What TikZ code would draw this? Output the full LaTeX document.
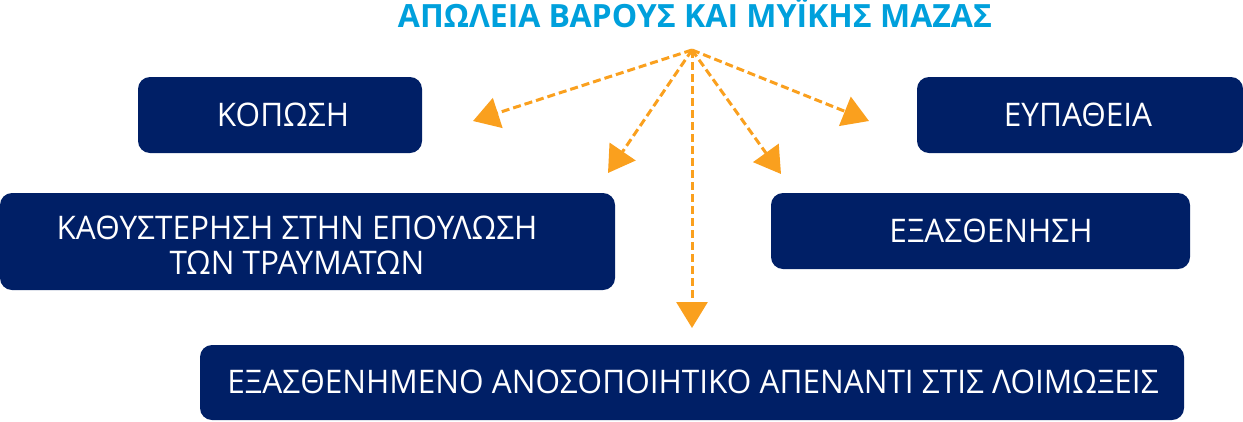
\documentclass[tikz,border=0pt]{standalone}
\usepackage{fontspec}
\setmainfont{Open Sans}
\newfontfamily\boxfont[FakeStretch=0.97]{Open Sans}
\usetikzlibrary{arrows.meta}
\definecolor{navy}{RGB}{0,31,102}
\definecolor{titleblue}{RGB}{0,160,220}
\definecolor{arroworange}{RGB}{250,160,30}
\tikzset{
  x=1pt,y=-1pt,
  box/.style={fill=navy,draw=none,rounded corners=12pt,inner sep=0pt},
  boxtext/.style={text=white,font=\boxfont\fontsize{32.5}{35.5}\selectfont,inner sep=0pt,anchor=base},
  link/.style={draw=arroworange,line width=3pt,dash pattern=on 8pt off 4pt,
    -{Triangle[length=26pt,width=31pt]}},
}
\begin{document}
\begin{tikzpicture}
\useasboundingbox (0,0) rectangle (1243,421);
\node[text=titleblue,font=\fontsize{32}{35}\selectfont\bfseries,inner sep=0pt,anchor=base] (title) at (695,27) {ΑΠΩΛΕΙΑ ΒΑΡΟΥΣ ΚΑΙ ΜΥΪΚΗΣ ΜΑΖΑΣ};
\coordinate (src) at (692,50);
% boxes
\node[box,minimum width=284pt,minimum height=76pt] (b1) at (280,115) {};
\node[boxtext] (t1) at (283,126) {ΚΟΠΩΣΗ};
\node[box,minimum width=326pt,minimum height=76pt] (b2) at (1080,115) {};
\node[boxtext] (t2) at (1078,126) {ΕΥΠΑΘΕΙΑ};
\node[box,minimum width=615pt,minimum height=97pt] (b3) at (307.5,241.5) {};
\node[boxtext] (t3a) at (297,239) {ΚΑΘΥΣΤΕΡΗΣΗ ΣΤΗΝ ΕΠΟΥΛΩΣΗ};
\node[boxtext] (t3b) at (297,274.5) {ΤΩΝ ΤΡΑΥΜΑΤΩΝ};
\node[box,minimum width=419pt,minimum height=76pt] (b4) at (980.5,231) {};
\node[boxtext] (t4) at (991,242) {ΕΞΑΣΘΕΝΗΣΗ};
\node[box,minimum width=984pt,minimum height=75pt] (b5) at (692,382.5) {};
\node[boxtext] (t5) at (693,393) {ΕΞΑΣΘΕΝΗΜΕΝΟ ΑΝΟΣΟΠΟΙΗΤΙΚΟ ΑΠΕΝΑΝΤΙ ΣΤΙΣ ΛΟΙΜΩΞΕΙΣ};
% arrow ends
\coordinate (e1) at (473,121);
\coordinate (e2) at (608,173);
\coordinate (e3) at (692,328);
\coordinate (e4) at (781,174);
\coordinate (e5) at (869,121);
\foreach \e in {e1,e2,e3,e4,e5} \draw[link] (src) -- (\e);
\end{tikzpicture}
\end{document}
